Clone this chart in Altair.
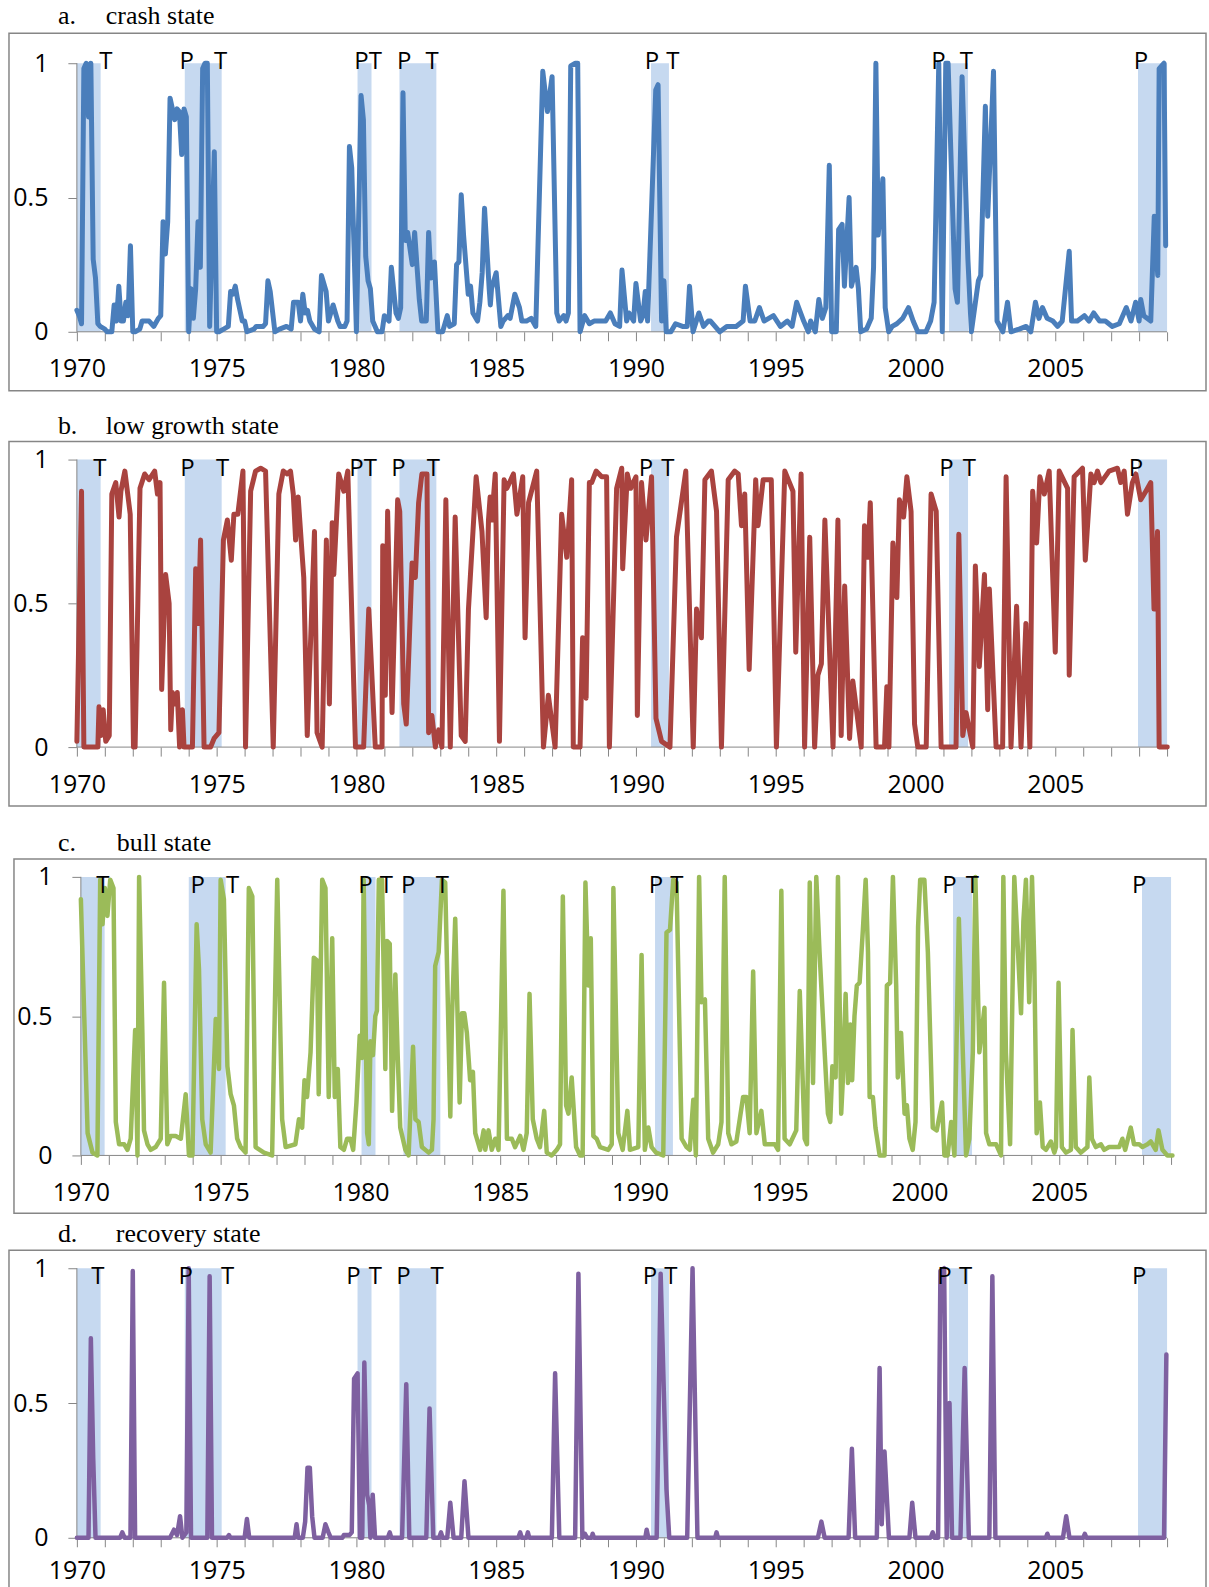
import altair as alt
import pandas as pd

# ---------------- data (month index from Jan 1970, probability) ----------------
rec_start = [1970.0, 1973.86, 1980.04, 1981.54, 1990.54, 2001.2, 2007.96]
rec_end = [1970.85, 1975.18, 1980.54, 1982.86, 1991.18, 2001.88, 2009.0]
pt_letters = ["T", "P", "T", "P", "T", "P", "T", "P", "T", "P", "T", "P"]

crash_points = [(0,.08),(1,.06),(2,.03),(3,.98),(4,1),(5,.8),(6,1),(7,.27),(8,.2),(9,.03),(10,.02),(12,.01),(13,0),(15,0),(16,.1),(17,.04),(18,.17),(19,.04),(20,.04),(21,.11),(22,.06),(23,.32),(24,0),(25,0),(27,.01),(28,.04),(31,.04),(33,.02),(35,.05),(36,.06),(37,.41),(38,.29),(39,.41),(40,.87),(41,.83),(42,.79),(43,.83),(44,.82),(45,.66),(46,.83),(47,.8),(48,0),(49,.16),(50,.05),(51,.16),(52,.41),(53,.24),(54,.98),(55,1),(56,1),(57,.02),(59,.67),(60,0),(61,0),(63,.01),(65,.02),(66,.15),(67,.14),(68,.17),(69,.12),(71,.04),(72,.04),(73,0),(76,.01),(77,.02),(80,.02),(81,.03),(82,.19),(83,.15),(85,0),(87,.01),(90,.02),(92,.01),(93,.11),(95,.11),(96,.04),(97,.14),(98,.07),(99,.08),(100,.04),(102,.01),(104,0),(105,.21),(107,.15),(108,.04),(110,.1),(112,.04),(113,.02),(115,.02),(116,.04),(117,.69),(118,.61),(120,0),(122,.88),(123,.79),(124,.28),(125,.19),(126,.16),(127,.04),(129,0),(131,0),(132,.06),(134,.04),(135,.24),(137,.07),(138,.05),(139,.09),(140,.89),(141,.34),(142,.37),(144,.25),(145,.37),(147,.12),(148,.04),(150,.04),(151,.37),(152,.2),(153.5,.26),(155,0),(157,0),(159,.06),(160,.02),(162,.03),(163,.25),(164,.26),(165,.51),(166,.36),(168,.14),(169,.17),(170,.07),(172,.04),(173,.11),(174,.22),(175,.46),(177,.16),(177.5,.1),(178,.16),(180,.22),(182,.02),(183,.04),(185,.06),(186,.05),(188,.14),(190,.09),(191,.04),(193,.04),(195,.05),(197,.02),(200,.97),(202,.82),(204,.95),(206,.07),(207,.04),(209,.06),(210,.04),(211,.07),(212,.99),(214,1),(215,1),(216,0),(218,.06),(220,.03),(222,.04),(225,.04),(227,.04),(229,.07),(231,.03),(233,.02),(234,.23),(236,.04),(237,.07),(239,.04),(240,.18),(242,.04),(243,.06),(244,.15),(245,.04),(248.5,.9),(249.5,.92),(251,.04),(252,.19),(253,0),(255,0),(257,.03),(260,.02),(262,.02),(263,.17),(264.5,0),(267,.07),(269,.02),(271,.04),(272,.04),(276,0),(279,.02),(281,.02),(283,.02),(286,.04),(287,.17),(289,.04),(291,.04),(293,.09),(295,.04),(299,.06),(302,.02),(305,.04),(307,.02),(309,.11),(312,.04),(314,0),(315,.04),(317,0),(318.5,.12),(320,.05),(321.5,.09),(323,.62),(324,0),(326,0),(327,.38),(328.5,.4),(329.5,.17),(331.5,.5),(332.5,.17),(334.5,.24),(335.5,.16),(336.5,0),(339,.01),(341,.05),(342,.24),(343,1),(344,.36),(346,.57),(347,.09),(348.5,0),(350,.02),(352,.03),(354.5,.05),(357,.09),(359,.04),(361,0),(364.5,0),(366.5,.04),(368,.11),(370,1),(371.5,0),(373,1),(374,1),(377,.16),(378,.11),(380,.95),(382.5,.27),(384,0),(387,.19),(388,.21),(390,.84),(391,.43),(393.5,.97),(395,.04),(397.5,0),(399.5,.11),(401,0),(404.5,.01),(407.5,.02),(409.5,0),(411.5,.11),(413,.05),(414.5,.09),(416.5,.05),(419,.04),(421,.02),(423,.04),(426,.3),(427,.04),(429.5,.04),(432.5,.06),(434.5,.04),(436.5,.07),(439,.04),(441.5,.04),(444.5,.02),(447.5,.03),(450.5,.09),(452.5,.04),(454.5,.11),(456,.04),(456.7,.12),(458,.06),(461,.04),(462.5,.43),(464,.21),(464.6,.98),(466.7,1),(467.4,.32)]

low_points = [(0,.02),(2,.89),(3,0),(9,0),(9.5,.14),(10.3,.04),(11.3,.13),(12.4,.02),(13.9,.04),(15,.88),(16.7,.92),(18.1,.8),(18.9,.89),(20.6,.96),(22.9,.81),(24.3,0),(25,0),(27.1,.9),(29.1,.95),(31,.93),(33.4,.96),(34.6,.88),(35.7,.92),(36.4,.2),(38.1,.6),(39.6,.5),(40.3,.06),(41,.19),(42,.15),(43.1,.19),(44.1,0),(45.3,.13),(46,0),(49.6,0),(51,.62),(52.1,.43),(53.1,.72),(54.6,0),(57.4,0),(58.9,.03),(61,.05),(62.9,.72),(64.6,.79),(66.3,.65),(67.4,.81),(69.1,.81),(71.3,.96),(72.4,0),(74.6,.89),(76.7,.96),(78.9,.97),(81,.96),(84.3,0),(86.7,.88),(88.6,.96),(90.3,.95),(91.7,.96),(92.9,.88),(93.9,.72),(95,.87),(96.7,.67),(97.4,.59),(98.9,.04),(102,.75),(103.1,.05),(105.3,0),(107.1,.72),(108.4,.15),(109.6,.78),(110.3,.6),(112.4,.95),(114.6,.89),(116.3,.96),(119.6,0),(123.1,0),(125.3,.48),(128.1,0),(131,0),(131.3,.7),(132.4,.18),(133.4,.82),(135.3,.12),(137.7,.86),(138.6,.82),(140.3,.15),(141.4,.08),(143.9,.64),(145.3,.59),(146.7,.85),(148.1,.95),(150.3,.95),(151,.05),(152.4,.11),(153.9,0),(155.3,.06),(156.7,0),(158.4,.86),(160.3,0),(162.4,.8),(165,.04),(166.7,.02),(168.1,.48),(171.4,.94),(173.9,.75),(175.7,.45),(176.7,.79),(177.4,.87),(178.1,.79),(179.6,.95),(181.4,.02),(183.4,.93),(184.6,.9),(187.4,.95),(188.9,.81),(191.4,.94),(192.4,.38),(193.9,.85),(197.4,.96),(200.3,0),(202.4,.18),(205.3,0),(208.1,.81),(210.3,.66),(212.4,.93),(213.1,0),(216,0),(217.1,.38),(218.6,.17),(220,.92),(221,.92),(222.9,.96),(225.3,.94),(227.4,.94),(228.6,0),(231.7,.9),(233.9,.97),(234.3,.62),(236.3,.95),(237.7,.9),(240,.94),(240.6,.11),(242.4,.92),(244.3,.72),(246.7,.94),(248.6,.1),(251,.02),(254.6,0),(257.4,.73),(261.4,.96),(264.6,0),(266,.48),(268.1,.38),(269.6,.93),(272.4,.96),(274.6,.82),(276.7,0),(279.6,.93),(282.4,.96),(283.9,.95),(285.3,.77),(286.7,.88),(288.6,.27),(291.4,.93),(292.4,.77),(294.6,.93),(298.1,.93),(300.3,0),(303.9,.96),(307.4,.89),(308.6,.33),(310.9,.95),(312.4,0),(314.6,.73),(316.7,0),(318.1,.25),(319.6,.29),(321.1,.79),(324.6,0),(326.7,.79),(328.1,.04),(329.6,.56),(331.7,.03),(333.1,.23),(336.7,0),(338.1,.77),(339.6,.66),(340.6,.85),(343.1,0),(346.7,0),(347.7,.21),(348.6,0),(350.3,.71),(352,.52),(353.1,.86),(354.9,.8),(356.3,.94),(358.1,.82),(359.6,.08),(361,0),(364.6,0),(366.7,.88),(368.9,.82),(371,0),(377.4,0),(378.6,.74),(380.3,.04),(381.7,.12),(384.6,0),(385.7,.63),(387.4,.28),(389.6,.6),(391,.13),(391.7,.55),(394.6,0),(397.4,0),(398.9,.94),(401,0),(403.4,.49),(405.3,0),(407.4,.43),(409.1,0),(410.3,.89),(412,.71),(413.4,.94),(415.3,.88),(417.4,.96),(420,.33),(421.7,.96),(425.3,.9),(426,.25),(428.1,.94),(431.7,.97),(432.9,.65),(435.3,.95),(436.7,.92),(438.1,.96),(439.6,.92),(443.1,.96),(446.7,.97),(448.1,.92),(449.6,.96),(451,.81),(453.1,.92),(454.6,.95),(456.7,.86),(458.9,.89),(461,.92),(462.4,.48),(463.9,.75),(464.6,0),(468.1,0)]

bull_points = [(0,.92),(2.9,.08),(5,.01),(7.1,0),(8.3,.99),(9.3,.83),(10.3,.96),(11.4,.86),(12.6,.99),(14,.96),(15,.12),(16.4,.04),(18.6,.04),(20,.02),(21.4,.06),(23.3,.45),(24.3,0),(25,1),(26.4,.44),(27.1,.09),(28.6,.04),(30,.02),(32.1,.03),(34.3,.06),(35.7,.62),(37.1,.04),(38.6,.07),(40.7,.07),(42.9,.06),(45,.22),(46.4,0),(47.9,0),(49.7,.83),(50.7,.67),(52.1,.13),(53.6,.04),(55.7,.01),(57.9,.49),(59.3,.31),(60,.99),(61.4,.92),(62.9,.32),(64.3,.22),(65.7,.18),(67.1,.06),(68.6,.03),(70.7,.01),(72.1,.96),(73.6,.93),(75,.03),(78.6,.01),(82.1,0),(84.3,.99),(86.4,.13),(87.9,.03),(92.1,.04),(93.6,.13),(95,.1),(96,.27),(97.1,.21),(98.6,.37),(100,.71),(101.4,.7),(102.1,.22),(103.6,.99),(105,.96),(106.4,.21),(107.9,.78),(109,.21),(110.3,.31),(111.4,.03),(112.9,.02),(114.3,.06),(115.7,.06),(116.9,.02),(118.3,.19),(119.7,.43),(120.7,.35),(121.4,.99),(122.9,.08),(123.6,.04),(124.3,.41),(125.4,.36),(126.4,.5),(127.1,.52),(127.9,.99),(129.3,.99),(130.7,.31),(131.4,.77),(132.6,.76),(133.6,.16),(135,.65),(136,.36),(137.1,.1),(139.3,.02),(140.7,0),(142.6,.39),(143.6,.13),(145,.12),(146.4,.03),(149.3,.01),(150.7,.02),(151.4,.13),(152.1,.68),(153.6,.73),(155,.99),(156.4,.98),(158.6,.14),(159.3,.49),(160.7,.85),(162.6,.19),(163.6,.51),(164.6,.51),(165.7,.44),(167.1,.27),(168.3,.3),(169.3,.08),(171.4,.02),(172.9,.09),(173.6,.02),(175,.09),(176.4,.02),(177.9,.06),(179.3,.02),(181.4,.95),(182.9,.06),(185,.06),(186.4,.03),(188.6,.07),(190,.02),(191.4,.08),(192.6,.58),(194,.13),(195.7,.06),(197.1,.03),(198.9,.16),(200,.01),(202.1,0),(204.3,.02),(205.7,.04),(206.9,.93),(208.3,.18),(209.3,.15),(210.7,.28),(212.6,.03),(214.3,0),(215.4,0),(216.6,.98),(217.9,.61),(218.9,.78),(220,.07),(221.4,.06),(222.9,.03),(226.4,.02),(227.9,.04),(228.6,.96),(230.7,.08),(232.6,.02),(234.6,.16),(235.7,.02),(239.3,.03),(240.7,.72),(242.1,.02),(243.6,.1),(245,.03),(246.9,.01),(250,0),(251.4,.8),(252.9,.81),(254.3,.99),(255.7,.98),(257.9,.06),(260,.03),(261.4,.02),(262.9,.2),(264,0),(265.4,1),(266.4,.55),(267.9,.56),(269.3,.06),(271.4,.01),(273.6,.04),(275,.12),(276.4,1),(277.9,.08),(279.3,.04),(281.4,.05),(284.3,.21),(285.7,.21),(287.1,.08),(288.6,.66),(290,.08),(292.1,.16),(293.6,.04),(297.9,.04),(299.3,.02),(300.7,.95),(302.1,.06),(304.3,.04),(307.1,.09),(308.6,.59),(310.7,.06),(311.7,.04),(312.9,.98),(314.3,.26),(315.7,1),(317.1,.73),(319.3,.37),(320.7,.15),(321.7,.12),(322.6,.32),(324,.28),(325,1),(326.4,.15),(327.1,.27),(328.3,.58),(329.3,.26),(330.3,.47),(331.1,.27),(332.1,.5),(333.1,.61),(334.3,.62),(335.7,.81),(336.9,.99),(337.9,.73),(338.6,.21),(340,.21),(341.1,.1),(342.9,0),(345,0),(346,.61),(347.4,.62),(348.6,1),(350,.61),(350.7,.28),(352.1,.44),(353.6,.15),(354.6,.18),(355.7,.06),(357.1,.02),(358.3,.12),(359.4,.82),(360.3,.99),(362.1,.99),(363.6,.73),(365.7,.1),(367.4,.09),(369.7,.19),(370.7,0),(372.1,0),(373.6,.12),(375,0),(376.9,.85),(378.6,.37),(380,0),(381.4,.06),(382.9,.37),(384,1),(385.7,.37),(387.9,.53),(388.6,.08),(390,.04),(392.9,.04),(395,0),(396,1),(397.1,.37),(398.9,.04),(400.7,1),(403.6,.51),(404.6,.84),(405.7,.99),(407.1,.55),(408.3,1),(409.3,.69),(410.3,.08),(411.7,.19),(412.9,.03),(414.3,.02),(416.4,.05),(417.9,.01),(418.6,.03),(419.7,.62),(421.1,.03),(422.9,.01),(425,.02),(425.7,.45),(427.1,.03),(429.3,.01),(432.1,.03),(432.9,.28),(434,.06),(435.7,.03),(437.9,.04),(439.3,.02),(441.4,.03),(443.6,.03),(445.7,.03),(447.1,.06),(448.3,.02),(450.7,.1),(452.1,.04),(454.3,.04),(455.7,.03),(457.9,.04),(459.3,.05),(461.4,.02),(462.6,.09),(464.3,.02),(466.4,0),(468.6,0)]

recovery_points = [(0,0),(5,0),(6,.74),(7,.3),(8,0),(18.5,0),(19.5,.02),(20.5,0),(23,0),(24,.99),(25,0),(40,0),(41.7,.03),(43,.01),(44.3,.08),(45.3,0),(47,.02),(48,1),(49,0),(56,0),(57,.97),(58,0),(64.5,0),(65.3,.01),(66,0),(72,0),(73,.07),(74,0),(93.5,0),(94.3,.05),(95,0),(97,0),(98,.06),(99,.26),(100,.26),(101,.08),(102,0),(105.5,0),(106.7,.05),(108,.02),(109,0),(114,0),(114.6,.01),(117,.01),(118,.02),(119,.59),(120.5,.61),(121.5,0),(122.5,0),(123.4,.65),(124.6,.16),(125.5,.12),(126,0),(127,.16),(128,0),(133.5,0),(134.3,.02),(135,0),(139.6,0),(141.4,.57),(142.7,0),(150,0),(151.4,.48),(153,0),(155.5,0),(156.3,.02),(157,0),(159,0),(160.3,.13),(161.7,0),(165,0),(166.4,.21),(168.1,0),(189.5,0),(190.3,.02),(191,0),(193,0),(193.6,.02),(194.2,0),(203.9,0),(205.3,.61),(207.1,0),(213.9,0),(215.3,.98),(217,0),(218.1,.015),(219,0),(221,0),(221.4,.015),(222,0),(244,0),(244.6,.03),(245.3,0),(248.9,0),(250.6,.98),(253.1,.18),(254.3,0),(262,0),(264.3,1),(266.4,0),(274,0),(274.6,.02),(275.2,0),(318.1,0),(319.6,.06),(321,0),(331.3,0),(332.7,.33),(334.1,0),(343.4,0),(344.6,.63),(345.5,.05),(346.7,.32),(348.6,0),(357.4,0),(358.6,.13),(360,0),(366.5,0),(367.4,.02),(368.2,0),(369.7,0),(370.7,.99),(372.3,1),(373.4,0),(374.6,.5),(375.7,0),(379.3,0),(381.1,.63),(382.9,0),(391.7,0),(393,.97),(394.3,0),(416,0),(416.6,.015),(417.2,0),(423.3,0),(424.7,.08),(426.1,0),(432,0),(432.7,.015),(433.4,0),(466.7,0),(467.7,.68)]

crash_labels = [1971.04, 1973.93, 1975.14, 1980.18, 1980.68, 1981.71, 1982.71, 1990.57, 1991.32, 2000.82, 2001.82, 2008.07]
low_labels = [1970.82, 1973.96, 1975.21, 1980.0, 1980.5, 1981.5, 1982.75, 1990.36, 1991.14, 2001.11, 2001.93, 2007.89]
bull_labels = [1970.79, 1974.18, 1975.43, 1980.18, 1980.93, 1981.71, 1982.93, 1990.57, 1991.32, 2001.07, 2001.89, 2007.86]
recovery_labels = [1970.75, 1973.89, 1975.39, 1979.89, 1980.68, 1981.68, 1982.89, 1990.5, 1991.25, 2001.04, 2001.79, 2008.0]

years = list(range(1970, 2010))
axis_ends = {"x0": [1970], "x1": [2009], "y0": [0], "y1": [1]}

# ---------------- styling / layout ----------------
W = 1209
PX_YEAR = 28
FONT = "Open Sans"
SERIF = "Liberation Serif"
GRAY = "#868686"
SHADE = "#C6D9F0"


def panel(points, labels, color, sw, letter, name, H, top1, bot0, x0,
          box_left, box_top, box_bottom, title_base, name_x, lab_dy, xpad=16):
    k = bot0 - top1
    ys = alt.Scale(domain=[-(H - bot0) / k, 1 + top1 / k], nice=False, zero=False)
    xs = alt.Scale(domain=[1970 - x0 / PX_YEAR, 1970 + (W - x0) / PX_YEAR], nice=False, zero=False)

    line_df = pd.DataFrame({"date": [1970 + m / 12 for m, v in points],
                            "value": [v for m, v in points]})
    rec_df = pd.DataFrame({"start": rec_start, "end": rec_end})
    lab_df = pd.DataFrame({"date": labels, "txt": pt_letters})
    ax_df = pd.DataFrame(axis_ends)
    one = pd.DataFrame({"k": [0]})

    xaxis = alt.Axis(values=years, format="d", orient="bottom", offset=-(H - bot0),
                     domain=False, grid=False, tickSize=9, tickColor=GRAY, tickWidth=1,
                     labelExpr="datum.value % 5 === 0 ? datum.label : ''",
                     labelFont=FONT, labelFontSize=25, labelColor="black",
                     labelPadding=xpad, labelOverlap=False, labelFlush=False,
                     labelBound=False, title=None)
    yaxis = alt.Axis(values=[0, 0.5, 1], format="~g", orient="left", offset=-x0,
                     domain=False, grid=False, tickSize=9, tickColor=GRAY, tickWidth=1,
                     labelFont=FONT, labelFontSize=25, labelColor="black",
                     labelPadding=20, labelFlush=False, labelBound=False, title=None)

    shade = alt.Chart(rec_df).mark_rect(color=SHADE).encode(
        x=alt.X("start:Q", scale=xs, axis=xaxis),
        x2="end:Q",
        y=alt.YDatum(0, scale=ys, axis=yaxis),
        y2=alt.Y2Datum(1),
    )
    yline = alt.Chart(ax_df).mark_rule(color=GRAY, strokeWidth=1).encode(
        x=alt.X("x0:Q", scale=xs, axis=xaxis),
        y=alt.Y("y0:Q", scale=ys, axis=yaxis),
        y2="y1:Q",
    )
    xline = alt.Chart(ax_df).mark_rule(color=GRAY, strokeWidth=1).encode(
        x=alt.X("x0:Q", scale=xs, axis=xaxis),
        x2="x1:Q",
        y=alt.Y("y0:Q", scale=ys, axis=yaxis),
    )
    line = alt.Chart(line_df).mark_line(color=color, strokeWidth=sw,
                                        strokeJoin="round", strokeCap="round").encode(
        x=alt.X("date:Q", scale=xs, axis=xaxis),
        y=alt.Y("value:Q", scale=ys, axis=yaxis),
    )
    labs = alt.Chart(lab_df).mark_text(font=FONT, fontSize=24, baseline="alphabetic",
                                       align="center", dy=lab_dy, color="black").encode(
        x=alt.X("date:Q", scale=xs, axis=xaxis),
        y=alt.YDatum(1, scale=ys, axis=yaxis),
        text="txt:N",
    )
    box = alt.Chart(one).mark_rect(fillOpacity=0, stroke=GRAY, strokeWidth=1.5).encode(
        x=alt.value(box_left), x2=alt.value(1207),
        y=alt.value(box_top), y2=alt.value(box_bottom),
    )
    t1 = alt.Chart(one).mark_text(font=SERIF, fontSize=26, align="left",
                                  baseline="alphabetic", color="black").encode(
        x=alt.value(57), y=alt.value(title_base), text=alt.value(letter))
    t2 = alt.Chart(one).mark_text(font=SERIF, fontSize=26, align="left",
                                  baseline="alphabetic", color="black").encode(
        x=alt.value(name_x), y=alt.value(title_base), text=alt.value(name))

    return alt.layer(shade, yline, xline, line, labs, box, t1, t2).properties(width=W, height=H)


pa = panel(crash_points, crash_labels, "#4A7EBB", 5, "a.", "crash state",
           400, 61, 330, 76, 8, 31, 389, 22, 105, 6)
pb = panel(low_points, low_labels, "#A9433F", 5, "b.", "low growth state",
           415, 56, 344, 76, 8, 38, 403, 30, 105, 16)
pc = panel(bull_points, bull_labels, "#9BBB59", 4.5, "c.", "bull state",
           400, 57, 336, 80, 13, 39, 394, 31, 116, 16)
pd_ = panel(recovery_points, recovery_labels, "#7E60A0", 4.5, "d.", "recovery state",
            390, 46, 316, 76, 8, 28, 386, 20, 115, 16, xpad=12)

chart = alt.vconcat(pa, pb, pc, pd_, spacing=0).properties(
    padding=0, background="white"
).configure_view(stroke="transparent")

chart.save("out.html", embed_options={"renderer": "svg", "actions": False})
